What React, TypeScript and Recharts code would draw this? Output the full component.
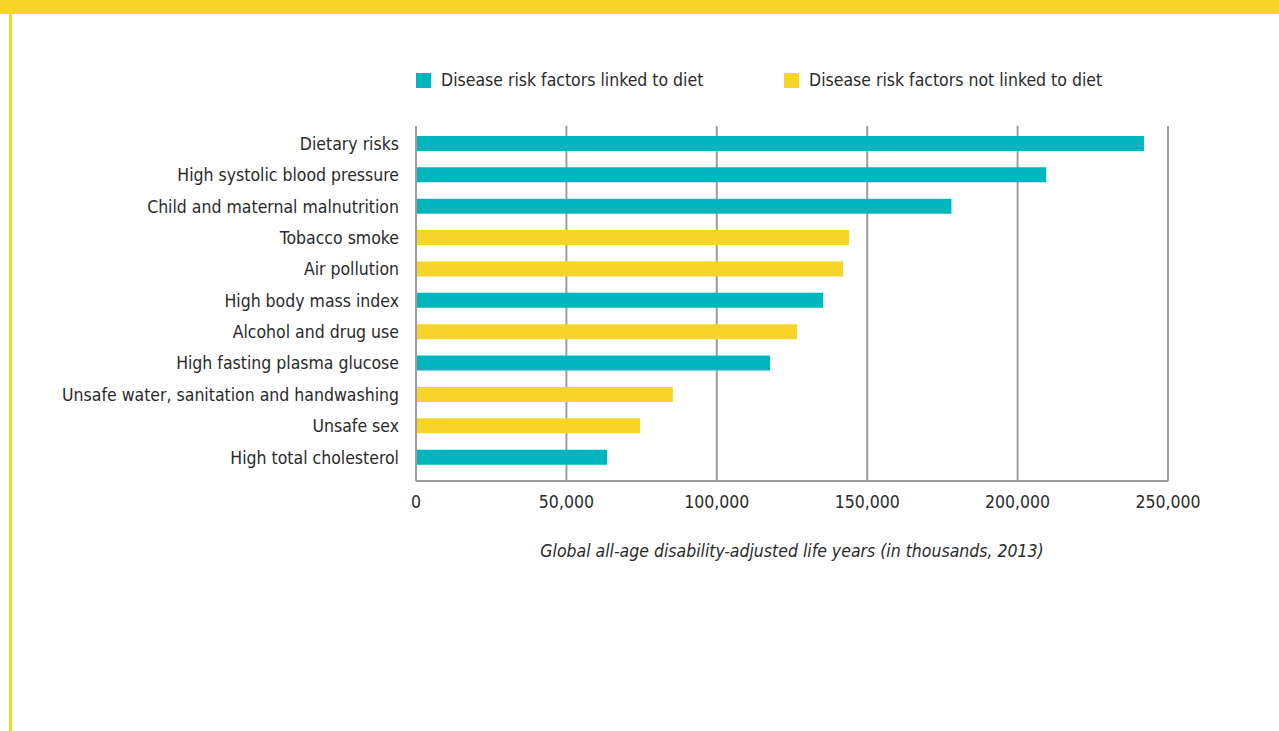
import React from "react";
import { BarChart, Bar, XAxis, YAxis, CartesianGrid } from "recharts";

const categories = [
  "Dietary risks",
  "High systolic blood pressure",
  "Child and maternal malnutrition",
  "Tobacco smoke",
  "Air pollution",
  "High body mass index",
  "Alcohol and drug use",
  "High fasting plasma glucose",
  "Unsafe water, sanitation and handwashing",
  "Unsafe sex",
  "High total cholesterol",
];

// thousands of DALYs, 2013
const values = [242000, 209500, 178000, 144000, 142000, 135300, 126700, 117700, 85400, 74500, 63500];
const linkedToDiet = [true, true, true, false, false, true, false, true, false, false, true];

const xTicks = [0, 50000, 100000, 150000, 200000, 250000];

const DIET_NAME = "Disease risk factors linked to diet";
const OTHER_NAME = "Disease risk factors not linked to diet";

const TEAL = "#00b6be";
const YELLOW = "#f6d42a";
const GRID = "#9d9d9d";
const TEXT = "#2a2a2a";
const FONT = "'Liberation Sans Narrow', 'Arial Narrow', 'DejaVu Sans Condensed', sans-serif";
const FS = 17.5;

const data = categories.map((name, i) => ({
  name,
  diet: linkedToDiet[i] ? values[i] : null,
  other: linkedToDiet[i] ? null : values[i],
}));

function formatTick(v: number) {
  return v.toLocaleString("en-US");
}

function LegendBox() {
  const items = [
    { label: DIET_NAME, color: TEAL, width: 368 },
    { label: OTHER_NAME, color: YELLOW, width: 360 },
  ];
  return (
    <div
      style={{
        position: "absolute",
        top: 70,
        left: 416,
        display: "flex",
        fontFamily: FONT,
        fontSize: FS,
        color: TEXT,
        lineHeight: "20px",
        whiteSpace: "nowrap",
      }}
    >
      {items.map((it) => (
        <div key={it.label} style={{ display: "flex", alignItems: "center", width: it.width }}>
          <span style={{ width: 15, height: 15, background: it.color, marginRight: 10, display: "inline-block" }} />
          <span>{it.label}</span>
        </div>
      ))}
    </div>
  );
}

export default function App() {
  return (
    <div
      style={{
        position: "absolute",
        top: 0,
        left: 0,
        width: 1279,
        height: 731,
        background: "#fff",
        overflow: "hidden",
      }}
    >
      <div style={{ position: "absolute", top: 0, left: 0, width: 1279, height: 14, background: YELLOW }} />
      <div style={{ position: "absolute", top: 14, left: 9, width: 3, height: 717, background: YELLOW }} />
      <LegendBox />
      <BarChart
        width={1279}
        height={731}
        data={data}
        layout="vertical"
        margin={{ top: 126, right: 111, bottom: 190, left: 0 }}
        barSize={15}
      >
        <CartesianGrid horizontal={false} stroke={GRID} strokeWidth={2} />
        <XAxis
          type="number"
          domain={[0, 250000]}
          ticks={xTicks}
          tickFormatter={formatTick}
          tickLine={false}
          axisLine={{ stroke: GRID, strokeWidth: 2 }}
          tick={{ fill: TEXT, fontSize: FS, fontFamily: FONT }}
          tickMargin={9}
          height={60}
          label={{
            value: "Global all-age disability-adjusted life years (in thousands, 2013)",
            position: "bottom",
            offset: 4,
            fill: TEXT,
            fontSize: FS,
            fontStyle: "italic",
            fontFamily: FONT,
          }}
        />
        <YAxis
          type="category"
          dataKey="name"
          width={416}
          tickLine={false}
          axisLine={{ stroke: GRID, strokeWidth: 2 }}
          tick={{ fill: TEXT, fontSize: FS, fontFamily: FONT }}
          tickMargin={11}
          interval={0}
          padding={{ top: 2, bottom: 8 }}
        />
        <Bar dataKey="diet" name={DIET_NAME} stackId="a" fill={TEAL} isAnimationActive={false} />
        <Bar dataKey="other" name={OTHER_NAME} stackId="a" fill={YELLOW} isAnimationActive={false} />
      </BarChart>
    </div>
  );
}
